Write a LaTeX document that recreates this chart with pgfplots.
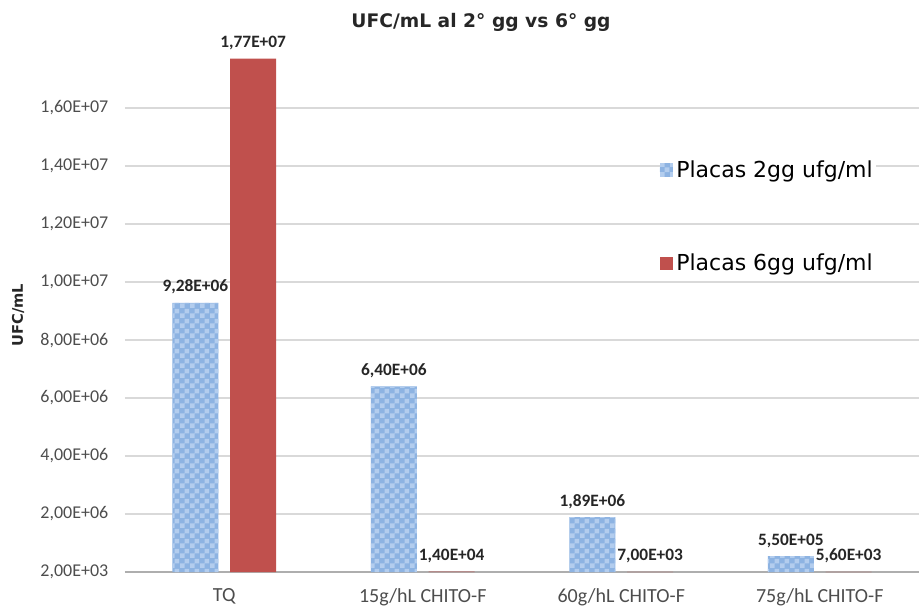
\documentclass[border=0pt]{standalone}
\usepackage{pgfplots}
\pgfplotsset{compat=1.18}
\usepackage{pgfplotstable}
\usepackage{fontspec}
\setmainfont{Carlito}
\newfontfamily\verdana{DejaVu Sans}
\usetikzlibrary{patterns}

\definecolor{bluebar}{HTML}{8DB3E2}
\definecolor{bluelight}{HTML}{B3CDEE}
\definecolor{redbar}{HTML}{C0504D}
\definecolor{gridc}{HTML}{D9D9D9}
\definecolor{tickc}{HTML}{4D4D4D}
\definecolor{txt}{HTML}{262626}

% checkerboard for the 2gg bars
\pgfdeclarepatternformonly{checker}{\pgfpointorigin}{\pgfqpoint{7.5pt}{7.5pt}}{\pgfqpoint{7.5pt}{7.5pt}}{%
  \pgfpathrectangle{\pgfpointorigin}{\pgfqpoint{3.75pt}{3.75pt}}%
  \pgfpathrectangle{\pgfqpoint{3.75pt}{3.75pt}}{\pgfqpoint{3.75pt}{3.75pt}}%
  \pgfusepath{fill}}

\pgfplotstableread{
x y label
0 9.28e6 9,28E+06
1 6.40e6 6,40E+06
2 1.89e6 1,89E+06
3 5.50e5 5,50E+05
}\dosgg
\pgfplotstableread{
x y label
0 1.77e7 1,77E+07
1 1.40e4 1,40E+04
2 7.00e3 7,00E+03
3 5.60e3 5,60E+03
}\seisgg

\begin{document}
\begin{tikzpicture}
\begin{axis}[
    scale only axis,
    width=595.5pt, height=391.5pt,
    xmin=-0.5, xmax=3.5,
    ymin=2000, ymax=1.8e7,
    axis x line*=bottom, axis y line*=left,
    x axis line style={draw=gridc!80!black, line width=0.9pt, -},
    y axis line style={draw=none},
    ymajorgrids, grid style={gridc, line width=0.9pt},
    major tick length=0pt,
    xtick={0,1,2,3},
    xticklabels={TQ, 15g/hL CHITO-F, 60g/hL CHITO-F, 75g/hL CHITO-F},
    ytick={2000,2e6,4e6,6e6,8e6,1e7,1.2e7,1.4e7,1.6e7},
    yticklabels={{2,00E+03},{2,00E+06},{4,00E+06},{6,00E+06},{8,00E+06},{1,00E+07},{1,20E+07},{1,40E+07},{1,60E+07}},
    scaled y ticks=false,
    yticklabel style={font=\fontsize{13.5}{16}\selectfont, color=tickc, xshift=-9pt},
    xticklabel style={font=\fontsize{15}{18}\selectfont, color=tickc, yshift=-9pt},
    nodes near coords,
    point meta=explicit symbolic,
    every node near coord/.append style={font=\bfseries\fontsize{13}{15}\selectfont, color=txt, anchor=south, yshift=3pt},
    legend style={at={(rel axis cs:0.668,0.80)}, anchor=north west, draw=none, fill=none,
        font=\verdana\fontsize{16.5}{19}\selectfont, text=black, row sep=51pt,
        nodes={fill=white, inner sep=2.5pt}},
    legend cell align=left,
]
\addplot[ybar, bar width=0.2317, bar shift=-0.146, draw=none, fill=bluebar,
    postaction={pattern=checker, pattern color=bluelight},
    every node near coord/.append style={xshift=-21.7pt},
    legend image code/.code={\fill[bluebar] (0pt,-5pt) rectangle (10pt,5pt);}]
    table[x=x, y=y, meta=label] {\dosgg};
\addlegendentry{Placas 2gg ufg/ml}
\addplot[ybar, bar width=0.2317, bar shift=0.146, draw=none, fill=redbar,
    every node near coord/.append style={xshift=21.7pt},
    legend image code/.code={\fill[redbar] (0pt,-5pt) rectangle (10pt,5pt);}]
    table[x=x, y=y, meta=label] {\seisgg};
\addlegendentry{Placas 6gg ufg/ml}
\end{axis}
\node[font=\verdana\bfseries\fontsize{14}{17}\selectfont, color=txt] at (267pt,412.5pt) {UFC/mL al 2° gg vs 6° gg};
\node[rotate=90, font=\verdana\bfseries\fontsize{11}{13}\selectfont, color=txt] at (-80.25pt,192.75pt) {UFC/mL};
\pgfresetboundingbox
\useasboundingbox (-93.75pt,-26.25pt) rectangle (595.5pt,429pt);
\end{tikzpicture}
\end{document}
